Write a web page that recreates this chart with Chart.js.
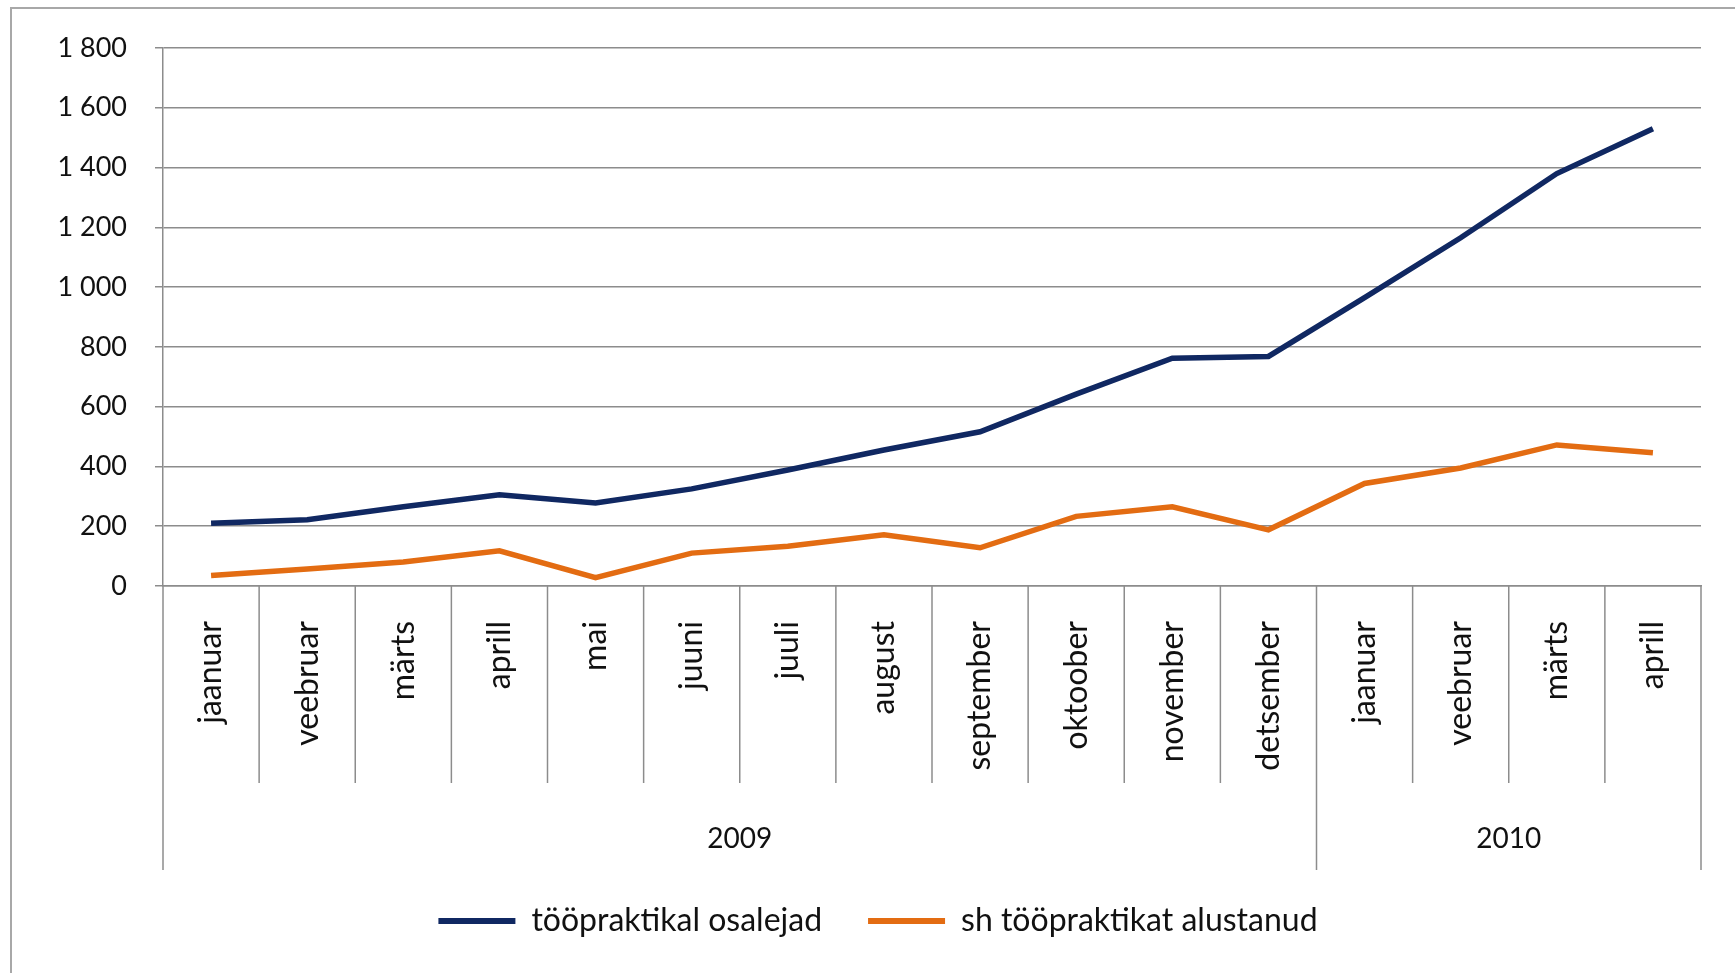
<!DOCTYPE html>
<html lang="et">
<head>
<meta charset="UTF-8" />
<title>Tööpraktika</title>
<script src="https://cdn.jsdelivr.net/npm/chart.js"></script>
<style>
  html, body { margin: 0; padding: 0; background: #fff; }
  #wrap { position: relative; width: 1735px; height: 973px; overflow: hidden; }
  #frame { position: absolute; left: 10px; top: 7px; width: 2000px; height: 2000px;
           border-left: 2px solid #a8a8a8; border-top: 2px solid #a8a8a8; pointer-events: none; }
</style>
</head>
<body>
<div id="wrap">
  <canvas id="chart"></canvas>
  <div id="frame"></div>
</div>
<script>
// data
const months = ['jaanuar', 'veebruar', 'märts', 'aprill', 'mai', 'juuni', 'juuli', 'august',
  'september', 'oktoober', 'november', 'detsember', 'jaanuar', 'veebruar', 'märts', 'aprill'];
const years = ['2009', '2010'];
const yearSpans = [12, 4];
const osalejad = [210, 222, 265, 305, 278, 325, 388, 455, 516, 642, 762, 768, 965, 1165, 1380, 1530];
const alustanud = [35, 57, 80, 118, 28, 110, 133, 171, 128, 233, 265, 188, 343, 395, 472, 446];

const GRID = '#8c8c8c';
const NAVY = '#102862';
const ORANGE = '#e36c12';
const YEAR_BAND = 87; // height of the year row incl. dividers
const PAD_LEFT = 55;  // shifts the legend right, y axis width compensates

// year group centres / edges in category units
const yearMid = [];
const yearEdges = [-0.5];
let start = 0;
yearSpans.forEach(n => {
  yearMid.push(start + n / 2 - 0.5);
  start += n;
  yearEdges.push(start - 0.5);
});

const fmt = v => String(v).replace(/\B(?=(\d{3})+(?!\d))/g, ' ');

// vertical dividers for the two-level category axis
const dividers = {
  id: 'dividers',
  afterDraw(chart) {
    const ctx = chart.ctx;
    const x2 = chart.scales.x2;
    const x = chart.scales.x;
    const top = chart.chartArea.bottom;
    ctx.save();
    ctx.strokeStyle = GRID;
    ctx.lineWidth = 1.5;
    for (let i = 0; i <= months.length; i++) {
      const v = i - 0.5;
      const px = x2.getPixelForValue(v);
      const bottom = yearEdges.includes(v) ? x2.top + YEAR_BAND : x.bottom;
      ctx.beginPath();
      ctx.moveTo(px, top);
      ctx.lineTo(px, bottom);
      ctx.stroke();
    }
    ctx.restore();
  }
};

new Chart(document.getElementById('chart'), {
  type: 'line',
  data: {
    labels: months,
    datasets: [
      { label: 'tööpraktikal osalejad', data: osalejad, borderColor: NAVY, backgroundColor: NAVY,
        borderWidth: 5.5, pointRadius: 0, tension: 0 },
      { label: 'sh tööpraktikat alustanud', data: alustanud, borderColor: ORANGE, backgroundColor: ORANGE,
        borderWidth: 5.5, pointRadius: 0, tension: 0 }
    ]
  },
  options: {
    responsive: true,
    maintainAspectRatio: false,
    animation: false,
    layout: { padding: { top: 48, right: 34, left: PAD_LEFT, bottom: 26 } },
    plugins: {
      tooltip: { enabled: false },
      legend: {
        position: 'bottom',
        labels: {
          font: { family: 'Lato', size: 32 },
          color: '#111',
          boxWidth: 77,
          boxHeight: 6,
          padding: 46,
          generateLabels: chart =>
            Chart.defaults.plugins.legend.labels.generateLabels(chart).map(l => ({ ...l, lineWidth: 0 }))
        }
      }
    },
    scales: {
      y: {
        min: 0,
        max: 1800,
        ticks: { stepSize: 200, padding: 28, color: '#111', font: { family: 'Lato', size: 27 }, callback: v => fmt(v) },
        grid: { color: GRID, lineWidth: 1.5, tickLength: 8 },
        border: { color: GRID, width: 1.5 },
        afterFit: s => { s.width = 163 - PAD_LEFT; }
      },
      x: {
        type: 'category',
        offset: true,
        grid: { display: false, drawTicks: false },
        border: { color: GRID, width: 1.5 },
        ticks: { minRotation: 90, maxRotation: 90, autoSkip: false, padding: 35, color: '#111',
                 font: { family: 'Lato', size: 32 } },
        afterFit: s => { s.height = 197; }
      },
      x2: {
        type: 'linear',
        position: 'bottom',
        min: -0.5,
        max: months.length - 0.5,
        grid: { display: false, drawTicks: false },
        border: { display: false },
        afterBuildTicks: s => { s.ticks = yearMid.map(v => ({ value: v })); },
        ticks: { padding: 39, color: '#111', font: { family: 'Lato', size: 28 },
                 callback: v => years[yearMid.indexOf(v)] },
        afterFit: s => { s.height = 76; }
      }
    }
  },
  plugins: [dividers]
});
</script>
</body>
</html>
